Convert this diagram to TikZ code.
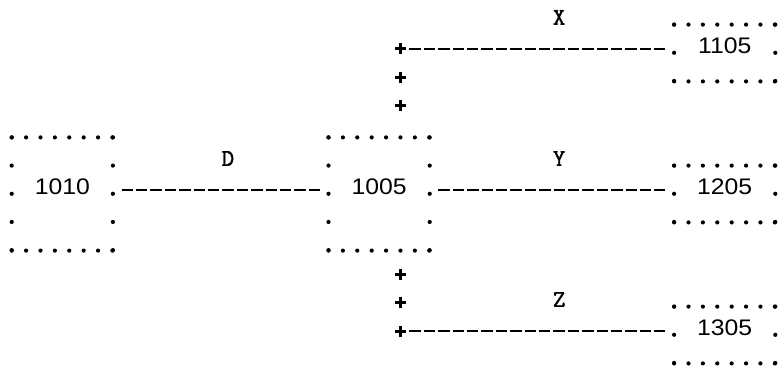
\documentclass[tikz,border=0pt]{standalone}
\usepackage{fontspec}
\newfontfamily\numfont{Liberation Sans}[FakeStretch=1.1]
\newfontfamily\lblfont{lmmono10-regular.otf}[FakeBold=1.2]
\usetikzlibrary{decorations.markings}

\begin{document}
\begin{tikzpicture}[x=1pt,y=-1pt,
  box/.style={inner sep=0pt,text height=0pt,text depth=0pt,minimum width=100.8pt,font=\numfont\fontsize{22.5}{22.5}\selectfont},
  tall/.style={box,minimum height=112.8pt},
  flat/.style={box,minimum height=56.4pt},
  lbl/.style={inner sep=0pt,text height=0pt,text depth=0pt,font=\lblfont\fontsize{24}{24}\selectfont},
  hdot/.style={line width=4.2pt,line cap=round,dash pattern=on 0pt off 14.39pt},
  vdot/.style={line width=4.2pt,line cap=round,dash pattern=on 0pt off 28.19pt},
  link/.style={line width=2.6pt,dash pattern=on 11.4pt off 3pt,shorten <=8.7pt,shorten >=8.7pt},
  plusrun/.style={decoration={markings,mark=between positions 0pt and 60pt step 28.2pt with {\draw[line width=3pt] (-5.5pt,0pt)--(5.5pt,0pt) (0pt,-5.5pt)--(0pt,5.5pt);}},decorate}]
  \useasboundingbox (0,0) rectangle (781,369);
  \node[tall] (b1010) at (62.3,194) {1010};
  \node[tall] (b1005) at (379.1,194) {1005};
  \node[flat] (b1105) at (724.7,53) {1105};
  \node[flat] (b1205) at (724.7,194) {1205};
  \node[flat] (b1305) at (724.7,335) {1305};
  \node[lbl] (lD) at (227.9,165.8) {D};
  \node[lbl] (lX) at (559.1,24.8) {X};
  \node[lbl] (lY) at (559.1,165.8) {Y};
  \node[lbl] (lZ) at (559.1,306.8) {Z};
  \coordinate (kx) at (400.7,49);
  \coordinate (kz) at (400.7,331);
  \foreach \b in {b1010,b1005,b1105,b1205,b1305}{
    \draw[hdot] (\b.north west) -- (\b.north east) (\b.south west) -- (\b.south east);
    \draw[vdot] (\b.north west) -- (\b.south west) (\b.north east) -- (\b.south east);
  }
  \draw[link] ([yshift=4pt]b1010.east) -- ([yshift=4pt]b1005.west);
  \draw[link] ([yshift=4pt]b1005.east) -- ([yshift=4pt]b1205.west);
  \draw[link] (kx) -- ([yshift=4pt]b1105.west);
  \draw[link] (kz) -- ([yshift=4pt]b1305.west);
  \path[plusrun] (kx) -- (kx |- b1005.north);
  \path[plusrun] (kz) -- (kz |- b1005.south);
\end{tikzpicture}
\end{document}
